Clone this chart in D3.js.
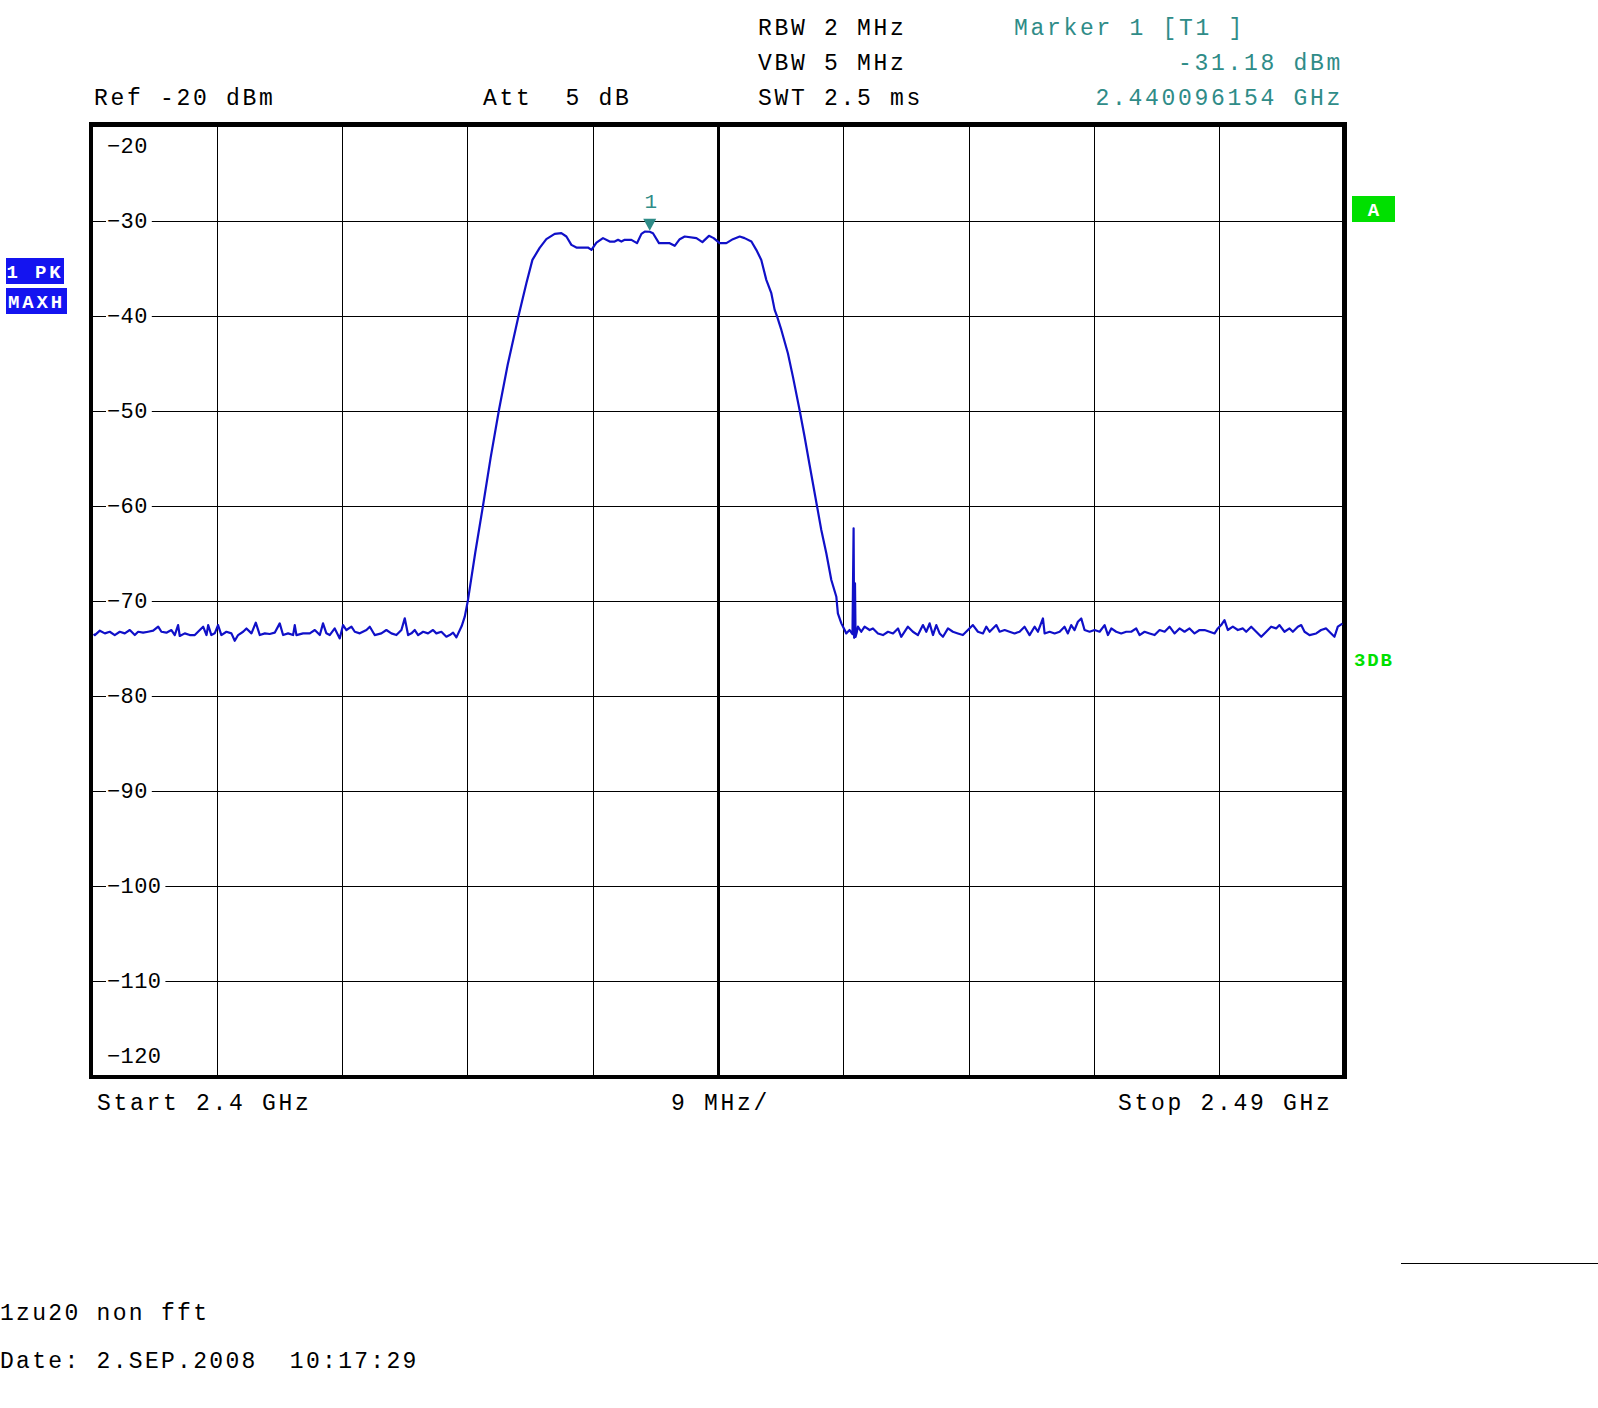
<!DOCTYPE html>
<html>
<head>
<meta charset="utf-8">
<script src="https://cdn.jsdelivr.net/npm/d3@7"></script>
<style>
  html, body { margin: 0; padding: 0; background: #fff; }
  svg { display: block; }
  text { font-family: "Liberation Mono", "DejaVu Sans Mono", monospace; }
</style>
</head>
<body>
<svg id="chart" width="1598" height="1408"></svg>
<script>
// ---------------- DATA ----------------
const startMHz = 2400;
const stopMHz = 2490;
const spanPerDivMHz = 9;
const refLevel = -20;
const bottomLevel = -120;
const yTicks = [-20, -30, -40, -50, -60, -70, -80, -90, -100, -110, -120];

// trace: [frequency MHz, level dBm]
const leftNoise = [
  [2400.15,-73.5],[2400.24,-73.61],[2400.60,-73.15],[2400.96,-73.43],[2401.31,-73.26],[2401.67,-73.61],
  [2402.03,-73.26],[2402.39,-73.43],[2402.75,-73.08],[2403.11,-73.61],[2403.35,-73.26],[2403.71,-73.36],
  [2404.07,-73.26],[2404.43,-73.15],[2404.79,-72.73],[2405.02,-73.26],[2405.38,-73.36],[2405.74,-73.08],
  [2405.98,-73.61],[2406.22,-72.56],[2406.34,-73.71],[2406.70,-73.43],[2407.06,-73.61],[2407.42,-73.61],
  [2407.78,-73.08],[2408.02,-72.73],[2408.26,-73.61],[2408.38,-72.56],[2408.61,-73.61],[2408.85,-73.43],
  [2409.09,-72.56],[2409.33,-73.61],[2409.69,-73.26],[2410.05,-73.43],[2410.29,-74.21],[2410.53,-73.61],
  [2410.89,-73.26],[2411.13,-72.91],[2411.49,-73.43],[2411.80,-72.31],[2412.09,-73.61],[2412.45,-73.43],
  [2412.80,-73.50],[2413.16,-73.36],[2413.52,-72.38],[2413.76,-73.61],[2414.12,-73.43],[2414.48,-73.61],
  [2414.60,-72.56],[2414.72,-73.61],[2415.20,-73.43],[2415.68,-73.43],[2416.04,-73.08],[2416.40,-73.61],
  [2416.63,-72.38],[2416.87,-73.43],[2417.11,-73.61],[2417.47,-72.91],[2417.83,-73.96],[2418.07,-72.56],
  [2418.31,-73.08],[2418.67,-72.73],[2418.91,-73.26],[2419.27,-73.43],[2419.75,-73.08],[2419.99,-72.73],
  [2420.34,-73.61],[2420.82,-73.43],[2421.18,-73.08],[2421.54,-73.43],[2421.90,-73.61],[2422.26,-73.08],
  [2422.50,-71.85],[2422.74,-73.61],[2422.98,-73.43],[2423.22,-73.08],[2423.46,-73.61],[2423.82,-73.26],
  [2424.17,-73.43],[2424.53,-73.08],[2424.77,-73.43],[2425.13,-73.26],[2425.49,-73.78],[2425.73,-73.61],
  [2425.97,-73.36],[2426.21,-73.85]
];
const passband = [
  [2426.59,-72.66],[2426.81,-71.68],[2427.04,-69.93],[2427.56,-64.98],[2428.12,-60.0],[2428.67,-54.95],
  [2429.27,-49.9],[2429.89,-45.2],[2430.68,-40.0],[2431.24,-36.56],[2431.67,-34.14],[2432.19,-32.87],
  [2432.67,-31.96],[2433.27,-31.40],[2433.75,-31.33],[2434.11,-31.68],[2434.47,-32.56],[2434.83,-32.84],
  [2435.66,-32.84],[2435.91,-33.08],[2436.27,-32.32],[2436.74,-31.85],[2437.22,-32.21],[2437.58,-32.21],
  [2437.82,-32.03],[2438.06,-32.21],[2438.30,-32.03],[2438.78,-32.03],[2439.18,-32.38],[2439.50,-31.40],
  [2439.74,-31.16],[2440.096,-31.18],[2440.33,-31.33],[2440.76,-32.38],[2441.53,-32.38],[2441.89,-32.66],
  [2442.25,-31.96],[2442.61,-31.68],[2443.45,-31.85],[2443.88,-32.27],[2444.35,-31.61],[2444.69,-31.85],
  [2445.12,-32.38],[2445.60,-32.38],[2446.07,-31.96],[2446.56,-31.68],[2446.91,-31.85],[2447.40,-32.21],
  [2447.75,-33.08],[2448.11,-34.14],[2448.47,-36.24],[2448.83,-37.64],[2449.07,-39.40],[2449.23,-40.03],
  [2449.55,-41.51],[2450.02,-43.96],[2450.38,-46.42],[2450.86,-49.93],[2451.22,-52.74],[2451.58,-55.72],
  [2452.11,-60.03],[2452.42,-62.56],[2452.78,-65.01],[2453.14,-67.82],[2453.50,-69.58],[2453.61,-71.33],
  [2453.86,-72.38],[2454.10,-73.08]
];
const spurArea = [
  [2454.21,-73.44],[2454.45,-73.08],[2454.66,-73.5],[2454.74,-62.38],[2454.78,-73.9],[2454.84,-68.17],
  [2454.88,-73.8],[2454.97,-73.3]
];
const rightNoise = [
  [2455.05,-72.73],[2455.29,-73.26],[2455.53,-72.73],[2455.89,-73.08],[2456.13,-72.91],[2456.49,-73.44],
  [2456.85,-73.61],[2457.21,-73.26],[2457.57,-73.44],[2457.93,-72.91],[2458.16,-73.79],[2458.64,-72.73],
  [2459.00,-73.26],[2459.36,-73.61],[2459.72,-72.56],[2459.96,-73.26],[2460.20,-72.38],[2460.44,-73.61],
  [2460.68,-72.56],[2460.92,-73.44],[2461.16,-73.79],[2461.52,-72.91],[2461.87,-73.26],[2462.23,-73.44],
  [2462.59,-73.61],[2462.95,-73.08],[2463.31,-72.56],[2463.67,-73.26],[2464.03,-73.44],[2464.27,-72.73],
  [2464.51,-73.26],[2464.99,-72.56],[2465.23,-73.26],[2465.59,-73.08],[2465.94,-73.26],[2466.30,-73.44],
  [2466.66,-73.26],[2467.02,-72.73],[2467.38,-73.61],[2467.74,-72.73],[2467.98,-73.26],[2468.34,-71.86],
  [2468.46,-73.44],[2468.82,-73.26],[2469.18,-73.44],[2469.54,-73.26],[2469.89,-72.73],[2470.13,-73.44],
  [2470.37,-72.56],[2470.61,-73.08],[2470.85,-72.21],[2471.09,-71.86],[2471.33,-73.08],[2471.69,-73.26],
  [2472.05,-73.08],[2472.41,-73.26],[2472.77,-72.56],[2473.01,-73.61],[2473.25,-72.91],[2473.60,-73.26],
  [2473.96,-73.44],[2474.32,-73.26],[2474.68,-73.26],[2475.04,-72.91],[2475.28,-73.61],[2475.64,-73.26],
  [2476.00,-73.44],[2476.36,-73.61],[2476.72,-73.08],[2477.08,-73.26],[2477.43,-72.73],[2477.79,-73.44],
  [2478.15,-72.91],[2478.51,-73.26],[2478.87,-72.91],[2479.23,-73.44],[2479.59,-73.08],[2479.95,-73.08],
  [2480.31,-73.26],[2480.67,-73.44],[2480.90,-72.91],[2481.14,-72.56],[2481.38,-72.03],[2481.62,-73.08],
  [2481.98,-72.73],[2482.34,-73.08],[2482.70,-72.91],[2482.94,-73.26],[2483.30,-72.73],[2483.66,-73.26],
  [2484.02,-73.79],[2484.38,-73.26],[2484.73,-72.73],[2485.09,-72.91],[2485.33,-72.56],[2485.69,-73.26],
  [2486.05,-72.91],[2486.29,-73.26],[2486.65,-72.73],[2486.89,-72.56],[2487.13,-73.26],[2487.49,-73.61],
  [2487.97,-73.44],[2488.32,-73.08],[2488.68,-72.91],[2489.04,-73.44],[2489.28,-73.79],[2489.52,-72.73],
  [2489.85,-72.4]
];

const markerFreqMHz = 2440.096154;
const markerLevel = -31.18;

const headerLeft = ["Ref -20 dBm", "Att  5 dB"];
const headerMid = ["RBW 2 MHz", "VBW 5 MHz", "SWT 2.5 ms"];
const headerMarker = ["Marker 1 [T1 ]", "-31.18 dBm", "2.440096154 GHz"];
const footerAxis = ["Start 2.4 GHz", "9 MHz/", "Stop 2.49 GHz"];
const footerNotes = ["1zu20 non fft", "Date: 2.SEP.2008  10:17:29"];
const sideLabels = ["1 PK", "MAXH"];

// ---------------- LAYOUT ----------------
const svg = d3.select("#chart");
svg.append("rect").attr("width", 1598).attr("height", 1408).attr("fill", "#fff");

const L = 91.5, R = 1344.5, T = 125.5, B = 1076;
const x = d3.scaleLinear().domain([startMHz, stopMHz]).range([L, R]);
const y = d3.scaleLinear().domain([refLevel, bottomLevel]).range([T, B]);

const TEAL = "#2f8c88";
const TRACE = "#1010c8";

// grid via axes
const xTickVals = d3.range(startMHz, stopMHz + 0.001, spanPerDivMHz);
const gx = svg.append("g").attr("transform", `translate(0,${B})`)
  .call(d3.axisBottom(x).tickValues(xTickVals).tickSize(-(B - T)).tickFormat(""));
gx.select(".domain").remove();
gx.selectAll(".tick").attr("transform", d => `translate(${Math.round(x(d)) + 0.5},0)`);
gx.selectAll("line").attr("stroke", "#000").attr("stroke-width", 1);
gx.selectAll(".tick").filter(d => Math.abs(d - (startMHz + stopMHz) / 2) < 0.01)
  .select("line").attr("stroke-width", 3);

const gy = svg.append("g").attr("transform", `translate(${L},0)`)
  .call(d3.axisLeft(y).tickValues(yTicks).tickSize(-(R - L)).tickFormat(""));
gy.select(".domain").remove();
gy.selectAll(".tick").attr("transform", d => `translate(0,${Math.round(y(d)) + 0.5})`);
gy.selectAll("line").attr("stroke", "#000").attr("stroke-width", 1);

// y labels with white background
const lblFont = 22, lblPitch = 13.6;
yTicks.forEach((v, i) => {
  const s = String(v).replace("-", "\u2212");
  let base;
  if (i === 0) base = y(v) + 27;
  else if (i === yTicks.length - 1) base = y(v) - 13.5;
  else base = y(v) + 7.5;
  const w = s.length * lblPitch;
  if (i !== 0 && i !== yTicks.length - 1) {
    svg.append("rect").attr("x", 106).attr("y", y(v) - 3).attr("width", w + 5).attr("height", 6).attr("fill", "#fff");
  }
  svg.append("text").attr("x", 107).attr("y", base)
    .attr("font-size", lblFont).attr("letter-spacing", lblPitch - lblFont * 0.6)
    .attr("fill", "#000").text(s);
});

// frame
svg.append("line").attr("x1", L - 0.5).attr("x2", L - 0.5).attr("y1", T - 3.5).attr("y2", B + 3).attr("stroke", "#000").attr("stroke-width", 4);
svg.append("line").attr("x1", R).attr("x2", R).attr("y1", T - 3.5).attr("y2", B + 3).attr("stroke", "#000").attr("stroke-width", 5);
svg.append("line").attr("x1", L - 2.5).attr("x2", R + 2.5).attr("y1", T - 1.5).attr("y2", T - 1.5).attr("stroke", "#000").attr("stroke-width", 4);
svg.append("line").attr("x1", L - 2.5).attr("x2", R + 2.5).attr("y1", B + 1).attr("y2", B + 1).attr("stroke", "#000").attr("stroke-width", 4);

// trace
const allPts = leftNoise.concat(passband, spurArea, rightNoise);
const line = d3.line().x(d => x(d[0])).y(d => y(d[1]));
svg.append("path").datum(allPts).attr("d", line)
  .attr("fill", "none").attr("stroke", TRACE).attr("stroke-width", 2.2)
  .attr("stroke-linejoin", "round");

// marker
const mx = x(markerFreqMHz), my = y(markerLevel);
svg.append("path")
  .attr("d", `M${mx - 6.5},${my - 13} L${mx + 6.5},${my - 13} L${mx},${my - 1} Z`)
  .attr("fill", TEAL);
svg.append("text").attr("x", mx + 1).attr("y", my - 24).attr("text-anchor", "middle")
  .attr("font-size", 21).attr("fill", TEAL).text("1");

// header text
const hFont = 23, hPitch = 16.5, hLS = hPitch - hFont * 0.6;
const rowY = [35, 70, 104.5];
function htext(str, xx, yy, color, anchor) {
  svg.append("text").attr("x", xx).attr("y", yy).attr("font-size", hFont)
    .attr("letter-spacing", hLS).attr("fill", color).attr("text-anchor", anchor || "start")
    .style("white-space", "pre").text(str);
}
htext(headerLeft[0], 94, rowY[2], "#000");
htext(headerLeft[1], 483, rowY[2], "#000");
headerMid.forEach((s, i) => htext(s, 758, rowY[i], "#000"));
htext(headerMarker[0], 1014, rowY[0], TEAL);
htext(headerMarker[1], 1343, rowY[1], TEAL, "end");
htext(headerMarker[2], 1343, rowY[2], TEAL, "end");

// bottom axis text
htext(footerAxis[0], 97, 1110, "#000");
htext(footerAxis[1], 671, 1110, "#000");
htext(footerAxis[2], 1118, 1110, "#000");

// footer notes
function ftext(str, xx, yy) {
  svg.append("text").attr("x", xx).attr("y", yy).attr("font-size", 23)
    .attr("letter-spacing", 16.1 - 23 * 0.6).attr("fill", "#000")
    .style("white-space", "pre").text(str);
}
ftext(footerNotes[0], 0, 1320);
ftext(footerNotes[1], 0, 1368);

// separator line bottom right
svg.append("line").attr("x1", 1401).attr("x2", 1598).attr("y1", 1263.5).attr("y2", 1263.5)
  .attr("stroke", "#000").attr("stroke-width", 1);

// left side boxes
const BLUE = "#1414f0";
const boxes = [{ y0: 258, h: 26, w: 58 }, { y0: 288, h: 26, w: 61 }];
sideLabels.forEach((s, i) => {
  const b = boxes[i];
  svg.append("rect").attr("x", 6).attr("y", b.y0).attr("width", b.w).attr("height", b.h).attr("fill", BLUE);
  svg.append("text").attr("x", 6 + b.w / 2).attr("y", b.y0 + 19.5).attr("text-anchor", "middle")
    .attr("font-size", 19).attr("font-weight", "bold").attr("letter-spacing", 2.8)
    .attr("fill", "#fff").style("white-space", "pre").text(s);
});

// right side green
const GREEN = "#00e000";
svg.append("rect").attr("x", 1352).attr("y", 196).attr("width", 43).attr("height", 26).attr("fill", GREEN);
svg.append("text").attr("x", 1373.5).attr("y", 215.5).attr("text-anchor", "middle")
  .attr("font-size", 19).attr("font-weight", "bold").attr("fill", "#fff").text("A");
svg.append("text").attr("x", 1354).attr("y", 665.5)
  .attr("font-size", 19).attr("font-weight", "bold").attr("letter-spacing", 1.8)
  .attr("fill", GREEN).text("3DB");
</script>
</body>
</html>
